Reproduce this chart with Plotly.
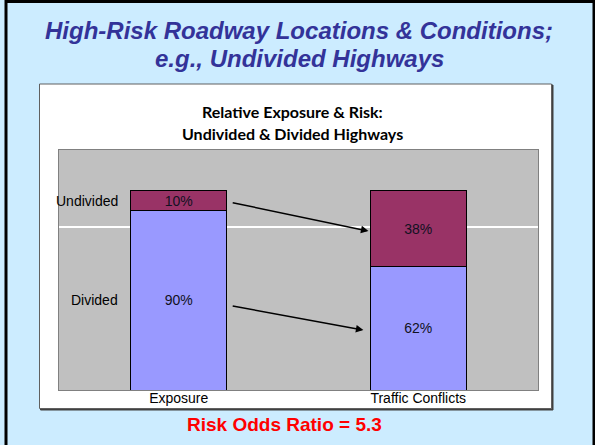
import plotly.graph_objects as go

# ---- data ----
categories = ["Exposure", "Traffic Conflicts"]
undivided = [10, 38]
divided = [90, 62]
segment_labels = ["Undivided", "Divided"]
grid_value = 82
odds_ratio_text = "Risk Odds Ratio = 5.3"

# ---- geometry (pixels in a 595x445 page) ----
W, H = 595, 445
L, R, T, B = 59, 538, 150, 390
PW, PH = R - L, B - T

def px(x):
    return (x - L) / PW

def py(y):
    return (B - y) / PH

fig = go.Figure()
fig.add_trace(go.Bar(
    x=categories, y=divided, name=segment_labels[1],
    marker=dict(color="#9999FF", line=dict(color="#000000", width=1)),
    texttemplate="%{y}%", textposition="inside", insidetextanchor="middle",
    textfont=dict(family="Liberation Sans, Arial", size=14, color="#111122"),
    constraintext="none", textangle=0, hoverinfo="skip",
))
fig.add_trace(go.Bar(
    x=categories, y=undivided, name=segment_labels[0],
    marker=dict(color="#993366", line=dict(color="#000000", width=1)),
    texttemplate="%{y}%", textposition="inside", insidetextanchor="middle",
    textfont=dict(family="Liberation Sans, Arial", size=14, color="#111122"),
    constraintext="none", textangle=0, hoverinfo="skip",
))

shapes = [
    # slide frame
    dict(type="rect", xref="paper", yref="paper", x0=px(6), x1=px(594), y0=py(460), y1=py(1.5),
         line=dict(color="#000000", width=3), fillcolor="rgba(0,0,0,0)", layer="below"),
    # chart box shadow + white box
    dict(type="rect", xref="paper", yref="paper", x0=px(40.5), x1=px(553), y0=py(410), y1=py(85),
         line=dict(color="#404040", width=1), fillcolor="#404040", layer="below"),
    dict(type="rect", xref="paper", yref="paper", x0=px(39.5), x1=px(551.5), y0=py(408.5), y1=py(84),
         line=dict(color="#606060", width=1), fillcolor="#FFFFFF", layer="below"),
    # plot area background
    dict(type="rect", xref="paper", yref="paper", x0=0, x1=1, y0=0, y1=1,
         line=dict(width=0), fillcolor="#C0C0C0", layer="below"),
]

annotations = [
    dict(text="<b><i>High-Risk Roadway Locations &amp; Conditions;</i></b>", xref="paper", yref="paper",
         x=px(299), y=py(30), xanchor="center", yanchor="middle", showarrow=False,
         font=dict(family="Liberation Sans, Arial", size=24, color="#333399")),
    dict(text="<b><i>e.g., Undivided Highways</i></b>", xref="paper", yref="paper",
         x=px(299), y=py(58), xanchor="center", yanchor="middle", showarrow=False,
         font=dict(family="Liberation Sans, Arial", size=24, color="#333399")),
    dict(text="<b>Relative Exposure &amp; Risk:</b>", xref="paper", yref="paper",
         x=px(292), y=py(112), xanchor="center", yanchor="middle", showarrow=False,
         font=dict(family="Lato", size=16, color="#000000")),
    dict(text="<b>Undivided &amp; Divided Highways</b>", xref="paper", yref="paper",
         x=px(292), y=py(133), xanchor="center", yanchor="middle", showarrow=False,
         font=dict(family="Lato", size=16, color="#000000")),
    dict(text="<b>" + odds_ratio_text + "</b>", xref="paper", yref="paper",
         x=px(284), y=py(424), xanchor="center", yanchor="middle", showarrow=False,
         font=dict(family="Liberation Sans, Arial", size=19, color="#FF0000")),
]

# segment labels at the centres of the Exposure segments
exp_centres = [divided[0] + undivided[0] / 2, divided[0] / 2]
label_x = 2 * px(120) - 0.5
for lab, yc in zip(segment_labels, exp_centres):
    annotations.append(dict(text=lab, x=label_x, y=yc, xref="x", yref="y",
                            xanchor="right", yanchor="middle", showarrow=False,
                            font=dict(family="Liberation Sans, Arial", size=14, color="#000000")))

# arrows from Exposure segments to Traffic Conflicts segments
tc_centres = [divided[1] + undivided[1] / 2, divided[1] / 2]
tails_x = [0.219, 0.219]
heads_x = [0.792, 0.771]
offs_t = [-0.8, -2.7]
offs_h = [-1.2, -0.9]
for i in range(2):
    annotations.append(dict(
        x=heads_x[i], y=tc_centres[i] + offs_h[i], ax=tails_x[i], ay=exp_centres[i] + offs_t[i],
        xref="x", yref="y", axref="x", ayref="y", text="", showarrow=True,
        arrowhead=2, arrowsize=1, arrowwidth=1.5, arrowcolor="#000000", standoff=0, startstandoff=0))

fig.update_layout(
    width=W, height=H,
    margin=dict(l=L, r=W - R, t=T, b=H - B, pad=0),
    paper_bgcolor="#CCECFF", plot_bgcolor="#C0C0C0",
    barmode="stack", bargap=0.6, showlegend=False,
    shapes=shapes, annotations=annotations,
    xaxis=dict(type="category", range=[-0.5, 1.5], showgrid=False, ticks="",
               showline=True, mirror=True, linecolor="#808080", linewidth=1,
               ticklabelstandoff=-5,
               tickfont=dict(family="Liberation Sans, Arial", size=14, color="#000000")),
    yaxis=dict(range=[0, 120.5], tickvals=[grid_value], showticklabels=False, ticks="",
               showgrid=True, gridcolor="#FFFFFF", gridwidth=1.5, zeroline=False,
               showline=True, mirror=True, linecolor="#808080", linewidth=1),
)

fig.write_html("out.html", config={"displayModeBar": False},
               post_script="document.body.style.margin='0px';")
